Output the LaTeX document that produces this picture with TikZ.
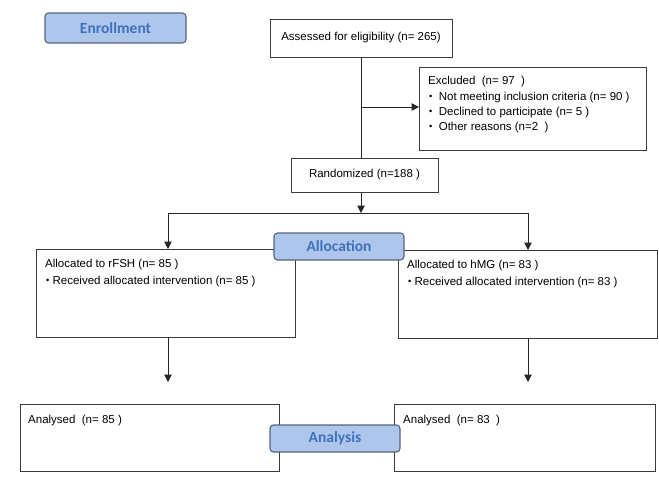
\documentclass[tikz,border=0pt]{standalone}
\usepackage{fontspec}
\setmainfont{Liberation Sans}
\newfontfamily\labelfont{Carlito}
\usetikzlibrary{arrows.meta}
\definecolor{lblfill}{HTML}{AEC6EB}
\definecolor{lbldraw}{HTML}{56647D}
\definecolor{lbltext}{HTML}{3F71BD}
\definecolor{boxdraw}{HTML}{3A3A3A}
\newcommand{\smbul}{\raisebox{0.25ex}{\scalebox{0.8}{\textbullet}}}
\tikzset{
  box/.style={draw=boxdraw, line width=1pt, fill=white, inner sep=0pt, anchor=north west},
  stage/.style={draw=lbldraw, line width=1.1pt, fill=lblfill, rounded corners=3.5pt,
    inner sep=0pt, text=lbltext, font=\labelfont\bfseries\fontsize{15.5}{17}\selectfont},
  txt/.style={inner sep=0pt, font=\fontsize{11.5}{13}\selectfont, anchor=west},
  ctxt/.style={inner sep=0pt, font=\fontsize{11.5}{13}\selectfont},
  conn/.style={draw=black!85, line width=1pt},
  arr/.style={conn, -{Triangle[length=7.5pt,width=7.5pt]}},
}
\begin{document}
\begin{tikzpicture}[x=1pt,y=-1pt]
\useasboundingbox (0,0) rectangle (659,482);
% boxes
\node[box, minimum width=182pt, minimum height=38pt] (assess) at (270,19) {};
\node[box, minimum width=227pt, minimum height=83pt] (excl) at (419,67) {};
\node[box, minimum width=147pt, minimum height=34pt] (rand) at (291,158) {};
\node[box, minimum width=259pt, minimum height=88pt] (allocL) at (36,249) {};
\node[box, minimum width=259pt, minimum height=88pt] (allocR) at (398,250) {};
\node[box, minimum width=259pt, minimum height=67pt] (analL) at (20,404) {};
\node[box, minimum width=261pt, minimum height=67pt] (analR) at (394,404) {};
% texts
\node[ctxt] (tassess) at (361,38) {Assessed for eligibility (n= 265)};
\node[ctxt] (trand) at (364.5,175) {Randomized (n=188 )};
\node[txt] (tex0) at (428,82) {Excluded\ \ (n= 97\ \ )};
\node[txt] (tex1) at (429,98) {\smbul\ \ Not meeting inclusion criteria (n= 90 )};
\node[txt] (tex2) at (429,113) {\smbul\ \ Declined to participate (n= 5 )};
\node[txt] (tex3) at (429,128) {\smbul\ \ Other reasons (n=2\ \ )};
\node[txt] (tal0) at (45,265) {Allocated to rFSH (n= 85 )};
\node[txt] (tal1) at (46,282) {\smbul\ Received allocated intervention (n= 85 )};
\node[txt] (tar0) at (407,266) {Allocated to hMG (n= 83 )};
\node[txt] (tar1) at (408,283) {\smbul\ Received allocated intervention (n= 83 )};
\node[txt] (tan0) at (28,421) {Analysed\ \ (n= 85 )};
\node[txt] (tan1) at (403,421) {Analysed\ \ (n= 83\ \ )};
% junctions
\coordinate (j1) at (361,107);
\coordinate (j2) at (361,213);
\coordinate (jl) at (168,213);
\coordinate (jr) at (528,213);
% connectors
\draw[conn] (assess.south -| j1) -- (rand.north -| j1);
\draw[arr] (j1) -- (excl.west |- j1);
\draw[arr] (rand.south -| j2) -- (j2);
\draw[conn] (jl) -- (jr);
\draw[arr] (jl) -- (allocL.north -| jl);
\draw[arr] (jr) -- (allocR.north -| jr);
\coordinate (el) at (168,382);
\coordinate (er) at (528,382);
\draw[arr] (allocL.south -| el) -- (el);
\draw[arr] (allocR.south -| er) -- (er);
% stage labels
\node[stage, minimum width=141pt, minimum height=30pt] (enroll) at (115.5,28) {Enrollment};
\node[stage, minimum width=130pt, minimum height=27pt] (allocation) at (339,246.5) {Allocation};
\node[stage, minimum width=130pt, minimum height=27pt] (analysis) at (335,438.5) {Analysis};
\end{tikzpicture}
\end{document}
